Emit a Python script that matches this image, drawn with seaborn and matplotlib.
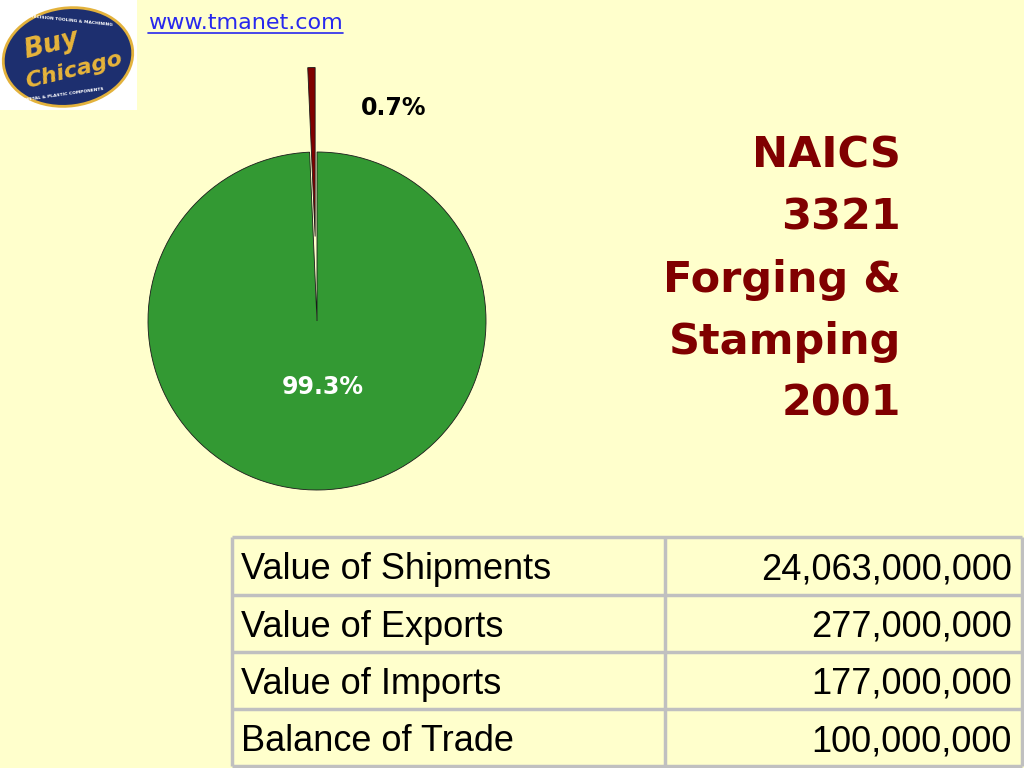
import matplotlib
matplotlib.use("Agg")
import matplotlib.pyplot as plt
import seaborn as sns
from matplotlib import font_manager
from matplotlib.patches import Ellipse, Rectangle

# ---------------- data ----------------
shares = [0.7, 99.3]                       # percent of value of shipments
share_labels = [f"{s}%" for s in shares]
title_lines = ["NAICS", "3321", "Forging &", "Stamping", "2001"]
table_labels = ["Value of Shipments", "Value of Exports",
                "Value of Imports", "Balance of Trade"]
table_values = [24063000000, 277000000, 177000000, 100000000]
link_text = "www.tmanet.com"

# ---------------- style ----------------
BG = "#FFFFCC"
sns.set_theme(style="white", rc={"figure.facecolor": BG, "axes.facecolor": "none"})
plt.rcParams['font.family'] = ['DejaVu Sans']

names = {f.name for f in font_manager.fontManager.ttflist}
if 'Liberation Sans Narrow' in names:
    narrow, tsize = 'Liberation Sans Narrow', 27
else:
    narrow, tsize = 'Liberation Sans', 26

fig = plt.figure(figsize=(10.24, 7.68), dpi=100)

# overlay axes in pixel coordinates (for decoration / text layout)
bg = fig.add_axes([0, 0, 1, 1])
bg.set_xlim(0, 1024)
bg.set_ylim(768, 0)
bg.axis('off')

# logo
bg.add_patch(Rectangle((0, 0), 137, 110, facecolor='white', edgecolor='none'))
bg.add_patch(Ellipse((68, 57), 130, 98, angle=-8, facecolor='#1D2F6F',
                     edgecolor='#E3B23C', linewidth=2))
bg.text(52, 45, "Buy", color='#E8B53A', fontsize=19, fontstyle='italic',
        fontweight='bold', rotation=14, ha='center', va='center')
bg.text(74, 70, "Chicago", color='#E8B53A', fontsize=16, fontstyle='italic',
        fontweight='bold', rotation=14, ha='center', va='center')
bg.text(70, 20, "PRECISION TOOLING & MACHINING", color='white', fontsize=3.2,
        fontweight='bold', rotation=-6, ha='center', va='center')
bg.text(64, 94, "METAL & PLASTIC COMPONENTS", color='white', fontsize=3.2,
        fontweight='bold', rotation=8, ha='center', va='center')

# link
bg.text(148, 29, link_text, ha='left', va='baseline', fontsize=16, color='#2828EE')
bg.plot([148, 343], [33, 33], color='#2828EE', lw=1.2)

# title
for i, line in enumerate(title_lines):
    bg.text(901, 168 + 62 * i, line, ha='right', va='baseline', fontsize=31,
            fontweight='bold', color='#800000')

# ---------------- pie ----------------
pax = fig.add_axes([148 / 1024, 1 - 490 / 768, 338 / 1024, 338 / 768])
wedges, _ = pax.pie(shares, colors=['#800000', '#339933'], explode=[0.5, 0],
                    startangle=90, counterclock=True,
                    wedgeprops=dict(edgecolor='#1a1a1a', linewidth=0.6))
pax.set_xlim(-1, 1)
pax.set_ylim(-1, 1)
pax.set_aspect('equal')
pax.axis('off')
for w in wedges:
    w.set_clip_on(False)
pax.text(0.456, 1.263, share_labels[0], ha='center', va='center', fontsize=17,
         fontweight='bold', color='black')
pax.text(0.036, -0.388, share_labels[1], ha='center', va='center', fontsize=17,
         fontweight='bold', color='white')

# ---------------- table ----------------
x0, x1, xm = 232, 1022, 665
row_edges = [537, 594.5, 652, 709, 766]
tax = fig.add_axes([x0 / 1024, 1 - 766 / 768, (x1 - x0) / 1024, (766 - 537) / 768])
tax.set_xlim(x0, x1)
tax.set_ylim(766, 537)
tax.axis('off')
grid = '#C0C0C0'
tax.hlines(row_edges, x0, x1, colors=grid, lw=2.5, clip_on=False)
tax.vlines([x0, xm, x1], row_edges[0], row_edges[-1], colors=grid, lw=2.5, clip_on=False)
for i, (lab, val) in enumerate(zip(table_labels, table_values)):
    yc = (row_edges[i] + row_edges[i + 1]) / 2 + 4
    tax.text(241, yc, lab, ha='left', va='center', fontsize=tsize,
             family=narrow, color='black')
    tax.text(1012, yc, f"{val:,}", ha='right', va='center', fontsize=tsize,
             family=narrow, color='black')

fig.savefig('out.png', dpi=100, facecolor=BG)
